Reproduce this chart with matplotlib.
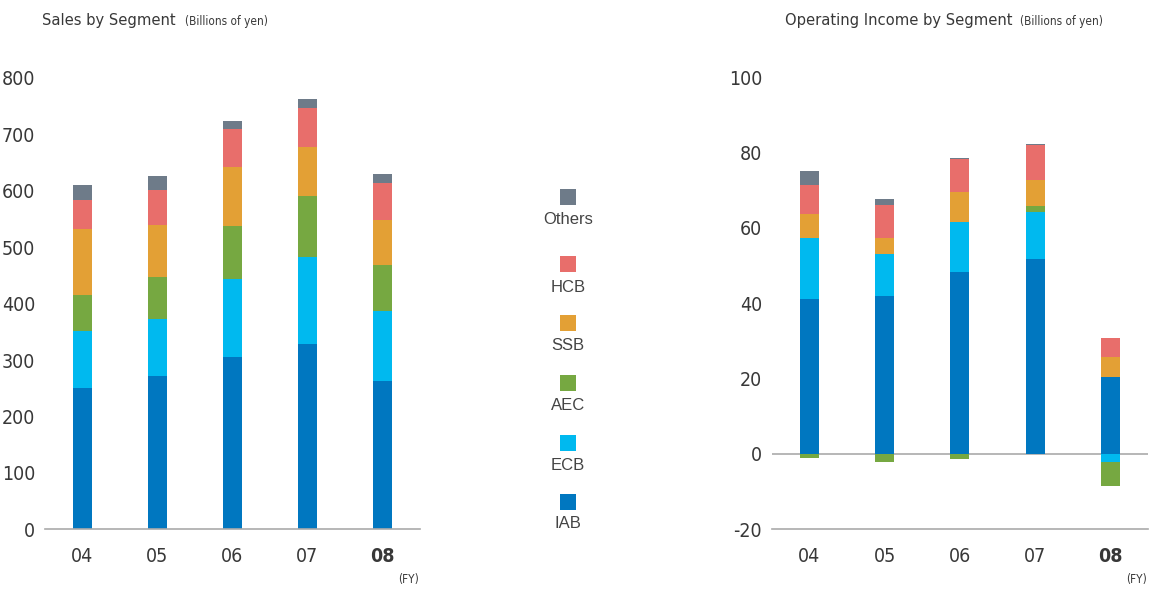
import numpy as np
import matplotlib
matplotlib.use("Agg")
import matplotlib.pyplot as plt

plt.rcParams['font.family'] = ['DejaVu Sans']
plt.rcParams['font.stretch'] = 'condensed'
plt.rcParams['axes.unicode_minus'] = False

years = ['04', '05', '06', '07', '08']
segments = ['IAB', 'ECB', 'AEC', 'SSB', 'HCB', 'Others']
colors = ['#0077c0', '#00b9ef', '#76a841', '#e3a035', '#e86e6b', '#6e7b89']

# Sales by segment (billions of yen)
sales_iab = [251, 272, 305, 329, 263]
sales_ecb = [101, 100, 139, 154, 124]
sales_aec = [64, 76, 93, 108, 82]
sales_ssb = [116, 92, 105, 86, 80]
sales_hcb = [51, 62, 67, 70, 64]
sales_oth = [27, 25, 14, 16, 16]

# Operating income by segment (billions of yen)
oi_iab = [41.1, 41.8, 48.3, 51.8, 20.4]
oi_ecb = [16.3, 11.3, 13.3, 12.5, -2.1]
oi_aec = [-1.0, -2.1, -1.3, 1.5, -6.4]
oi_ssb = [6.3, 4.3, 8.0, 6.9, 5.3]
oi_hcb = [7.7, 8.7, 8.7, 9.3, 5.1]
oi_oth = [3.7, 1.6, 0.3, 0.3, 0.0]

sales = [sales_iab, sales_ecb, sales_aec, sales_ssb, sales_hcb, sales_oth]
income = [oi_iab, oi_ecb, oi_aec, oi_ssb, oi_hcb, oi_oth]

text_col = '#383838'
line_col = '#aaaaaa'


def stacked(ax, series):
    x = np.arange(len(years))
    pos = np.zeros(len(years))
    neg = np.zeros(len(years))
    for vals, col in zip(series, colors):
        v = np.array(vals, dtype=float)
        bottom = np.where(v >= 0, pos, neg)
        ax.bar(x, v, 0.255, bottom=bottom, color=col, linewidth=0)
        pos = pos + np.where(v >= 0, v, 0)
        neg = neg + np.where(v < 0, v, 0)


def style(ax):
    for s in ['top', 'right', 'left']:
        ax.spines[s].set_visible(False)
    ax.spines['bottom'].set_color(line_col)
    ax.spines['bottom'].set_linewidth(1.2)
    ax.tick_params(length=0, labelsize=14, colors=text_col, pad=7)
    ax.tick_params(axis='x', pad=13)
    ax.set_xticks(range(len(years)))
    ax.set_xticklabels(years)
    ax.get_xticklabels()[-1].set_fontweight('bold')
    ax.set_xlim(-0.5, 4.5)


fig = plt.figure(figsize=(11.52, 5.89), dpi=100)

ax1 = fig.add_axes([0.039, 0.1014, 0.3256, 0.7662])
stacked(ax1, sales)
style(ax1)
ax1.set_ylim(0, 800)
ax1.set_yticks(range(0, 801, 100))

ax2 = fig.add_axes([0.670, 0.1014, 0.3265, 0.7676])
stacked(ax2, income)
style(ax2)
ax2.set_ylim(-20, 100)
ax2.set_yticks(range(-20, 101, 20))
ax2.axhline(0, color=line_col, linewidth=1.2, zorder=0)

# titles
fig.text(42 / 1152, 1 - 20 / 589, 'Sales by Segment', fontsize=11.8, color=text_col, va='center')
fig.text(185 / 1152, 1 - 21 / 589, '(Billions of yen)', fontsize=8.5, color=text_col, va='center')
fig.text(785 / 1152, 1 - 20 / 589, 'Operating Income by Segment', fontsize=11.8, color=text_col, va='center')
fig.text(1020 / 1152, 1 - 21 / 589, '(Billions of yen)', fontsize=8.5, color=text_col, va='center')
fig.text(419 / 1152, 1 - 580 / 589, '(FY)', fontsize=8.5, color=text_col, va='center', ha='right')
fig.text(1147 / 1152, 1 - 580 / 589, '(FY)', fontsize=8.5, color=text_col, va='center', ha='right')

# legend in the middle
lax = fig.add_axes([0, 0, 1, 1], facecolor='none')
lax.set_xlim(0, 1152)
lax.set_ylim(589, 0)
lax.axis('off')
sq_y = [502, 443, 383, 323, 264, 197]
lb_y = [524, 465, 405, 345, 287, 219]
for name, col, sy, ly in zip(segments, colors, sq_y, lb_y):
    lax.scatter([568], [sy], marker='s', s=16 * 16 * 0.53, color=col, linewidths=0)
    lax.text(568, ly, name, ha='center', va='center', fontsize=12, color='#444444',
             family=['Liberation Sans', 'DejaVu Sans'], stretch='normal')

fig.savefig('out.png', dpi=100)
